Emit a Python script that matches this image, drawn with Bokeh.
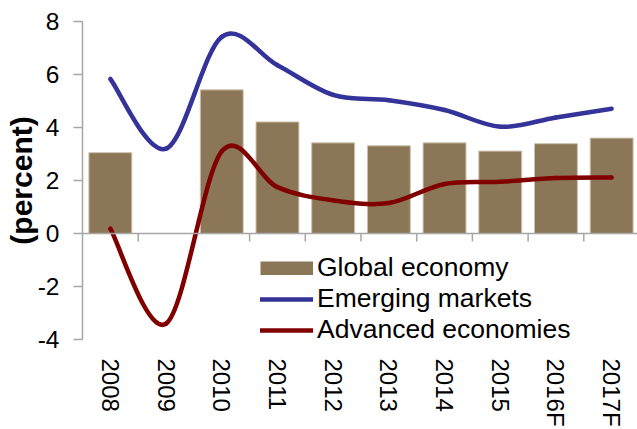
import numpy as np
from bokeh.plotting import figure
from bokeh.models import (Range1d, FixedTicker, Legend, LegendItem,
                          ColumnDataSource, Span)
from bokeh.embed import file_html
from bokeh.resources import INLINE

# ---- data ----
years = ["2008", "2009", "2010", "2011", "2012", "2013", "2014", "2015", "2016F", "2017F"]
global_economy = [3.05, 0.0, 5.42, 4.21, 3.42, 3.31, 3.42, 3.11, 3.39, 3.60]
emerging_markets = [5.83, 3.2, 7.42, 6.35, 5.23, 5.03, 4.66, 4.03, 4.38, 4.71]
advanced_economies = [0.18, -3.4, 3.1, 1.75, 1.25, 1.15, 1.87, 1.95, 2.09, 2.11]
y_ticks = [-4, -2, 0, 2, 4, 6, 8]
y_tick_labels = ["-4", "-2", "0", "2", "4", "6", "8"]

n = len(years)
centers = np.arange(n) + 0.5
boundaries = np.arange(1, n + 1)

FONT = "Liberation Sans"
AXIS_GRAY = "#a6a6a6"
BAR_COLOR = "#8B7757"
BLUE = "#333399"
RED = "#800000"

W, H = 637, 429
BORDER_TOP, BORDER_BOTTOM = 21, 87
Y0, Y1 = -4, 8

p = figure(width=W, height=H, output_backend="svg", toolbar_location=None,
           x_range=Range1d(0, 9.964), y_range=Range1d(Y0, Y1),
           min_border_left=82, min_border_right=0,
           min_border_top=BORDER_TOP, min_border_bottom=BORDER_BOTTOM)
p.outline_line_color = None
p.xgrid.visible = False
p.ygrid.visible = False
p.background_fill_color = "white"
p.border_fill_color = "white"

# bars
src = ColumnDataSource(dict(x=centers, top=global_economy))
p.vbar(x="x", top="top", bottom=0, width=0.77, source=src,
       fill_color=BAR_COLOR, line_color="#cdc2ae", line_width=1)

# zero line with category boundary tick marks hanging below it
p.add_layout(Span(location=0, dimension="width", line_color=AXIS_GRAY, line_width=1.5))
tick_len = 8 * (Y1 - Y0) / (H - BORDER_TOP - BORDER_BOTTOM)
p.segment(x0=boundaries, y0=np.zeros(n), x1=boundaries, y1=np.full(n, -tick_len),
          line_color=AXIS_GRAY, line_width=1.5)


def smooth_segments(vals):
    x = np.asarray(centers, dtype=float)
    y = np.asarray(vals, dtype=float)
    xp = np.concatenate([[x[0]], x, [x[-1]]])
    yp = np.concatenate([[y[0]], y, [y[-1]]])
    i = np.arange(n - 1)
    return dict(
        x0=xp[i + 1], y0=yp[i + 1], x1=xp[i + 2], y1=yp[i + 2],
        cx0=xp[i + 1] + (xp[i + 2] - xp[i]) / 6.0,
        cy0=yp[i + 1] + (yp[i + 2] - yp[i]) / 6.0,
        cx1=xp[i + 2] - (xp[i + 3] - xp[i + 1]) / 6.0,
        cy1=yp[i + 2] - (yp[i + 3] - yp[i + 1]) / 6.0,
    )


for vals, col in [(emerging_markets, BLUE), (advanced_economies, RED)]:
    s = ColumnDataSource(smooth_segments(vals))
    p.bezier(x0="x0", y0="y0", x1="x1", y1="y1", cx0="cx0", cy0="cy0",
             cx1="cx1", cy1="cy1", source=s, line_color=col, line_width=4.5,
             line_cap="round")

# y axis
ya = p.yaxis[0]
ya.ticker = FixedTicker(ticks=y_ticks)
ya.major_label_overrides = {float(t): l for t, l in zip(y_ticks, y_tick_labels)}
ya.axis_line_color = AXIS_GRAY
ya.axis_line_width = 1.5
ya.major_tick_line_color = AXIS_GRAY
ya.major_tick_line_width = 1.5
ya.major_tick_out = 9
ya.major_tick_in = 0
ya.minor_tick_line_color = None
ya.major_label_standoff = 14
ya.major_label_text_font = FONT
ya.major_label_text_font_size = "24.5px"
ya.major_label_text_color = "black"
ya.axis_label = "(percent)"
ya.axis_label_text_font = FONT
ya.axis_label_text_font_size = "30px"
ya.axis_label_text_font_style = "bold"
ya.axis_label_text_color = "black"
ya.axis_label_standoff = -3

# category labels (bottom axis, labels only)
xa = p.xaxis[0]
xa.ticker = FixedTicker(ticks=list(centers))
xa.major_label_overrides = {float(c): l for c, l in zip(centers, years)}
xa.major_label_orientation = "vertical"
xa.axis_line_color = None
xa.major_tick_line_color = None
xa.minor_tick_line_color = None
xa.major_label_standoff = 13
xa.major_label_text_font = FONT
xa.major_label_text_font_size = "24px"
xa.major_label_text_color = "black"

# legend proxies
r_g = p.line(x=[0], y=[np.nan], line_color=BAR_COLOR, line_width=14, line_cap="butt")
r_e = p.line(x=[0], y=[np.nan], line_color=BLUE, line_width=4.5, line_cap="round")
r_a = p.line(x=[0], y=[np.nan], line_color=RED, line_width=4.5, line_cap="round")

legend = Legend(items=[LegendItem(label="Global economy", renderers=[r_g]),
                       LegendItem(label="Emerging markets", renderers=[r_e]),
                       LegendItem(label="Advanced economies", renderers=[r_a])],
                location=(178, -6), orientation="vertical",
                glyph_width=53, glyph_height=14, label_standoff=4,
                label_height=30, spacing=0, padding=0, margin=0,
                border_line_color=None, background_fill_alpha=0,
                label_text_font=FONT, label_text_font_size="26.5px",
                label_text_color="black")
p.add_layout(legend, "center")

open("out.html", "w").write(file_html(p, INLINE))
